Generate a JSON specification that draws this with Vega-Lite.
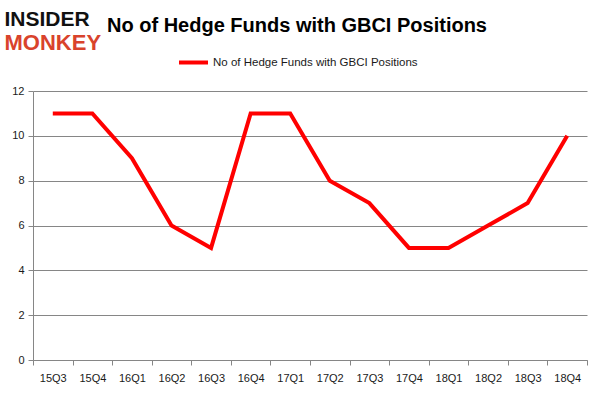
{
  "$schema": "https://vega.github.io/schema/vega-lite/v6.json",
  "width": 554,
  "height": 269,
  "autosize": {"type": "none"},
  "padding": {"left": 33, "top": 91, "right": 14, "bottom": 36},
  "background": "white",
  "title": {
    "text": "No of Hedge Funds with GBCI Positions",
    "font": "Liberation Sans",
    "fontSize": 20,
    "fontWeight": "bold",
    "color": "#000000",
    "anchor": "middle",
    "dx": -13,
    "dy": 28,
    "offset": 0
  },
  "data": {
    "values": [
      {"quarter": "15Q3", "funds": 11, "series": "No of Hedge Funds with GBCI Positions"},
      {"quarter": "15Q4", "funds": 11, "series": "No of Hedge Funds with GBCI Positions"},
      {"quarter": "16Q1", "funds": 9, "series": "No of Hedge Funds with GBCI Positions"},
      {"quarter": "16Q2", "funds": 6, "series": "No of Hedge Funds with GBCI Positions"},
      {"quarter": "16Q3", "funds": 5, "series": "No of Hedge Funds with GBCI Positions"},
      {"quarter": "16Q4", "funds": 11, "series": "No of Hedge Funds with GBCI Positions"},
      {"quarter": "17Q1", "funds": 11, "series": "No of Hedge Funds with GBCI Positions"},
      {"quarter": "17Q2", "funds": 8, "series": "No of Hedge Funds with GBCI Positions"},
      {"quarter": "17Q3", "funds": 7, "series": "No of Hedge Funds with GBCI Positions"},
      {"quarter": "17Q4", "funds": 5, "series": "No of Hedge Funds with GBCI Positions"},
      {"quarter": "18Q1", "funds": 5, "series": "No of Hedge Funds with GBCI Positions"},
      {"quarter": "18Q2", "funds": 6, "series": "No of Hedge Funds with GBCI Positions"},
      {"quarter": "18Q3", "funds": 7, "series": "No of Hedge Funds with GBCI Positions"},
      {"quarter": "18Q4", "funds": 10, "series": "No of Hedge Funds with GBCI Positions"}
    ]
  },
  "mark": {"type": "line", "strokeWidth": 4, "strokeJoin": "miter", "strokeCap": "butt"},
  "encoding": {
    "x": {
      "field": "quarter",
      "type": "ordinal",
      "sort": null,
      "scale": {"type": "band", "paddingInner": 0, "paddingOuter": 0},
      "axis": {
        "title": "MONKEY",
        "titleFont": "Liberation Sans",
        "titleFontSize": 22,
        "titleFontWeight": "bold",
        "titleColor": "#d9432c",
        "titleAngle": 0,
        "titleAlign": "left",
        "titleBaseline": "alphabetic",
        "titleX": -29,
        "titleY": -311,
        "labelAngle": 0,
        "labelFont": "Liberation Sans",
        "labelFontSize": 11,
        "labelColor": "#1a1a1a",
        "labelPadding": 7,
        "tickBand": "extent",
        "tickSize": 5,
        "tickColor": "#868686",
        "domainColor": "#868686",
        "grid": false
      }
    },
    "y": {
      "field": "funds",
      "type": "quantitative",
      "scale": {"domain": [0, 12]},
      "axis": {
        "title": "INSIDER",
        "titleFont": "Liberation Sans",
        "titleFontSize": 21,
        "titleFontWeight": "bold",
        "titleColor": "#111111",
        "titleAngle": 0,
        "titleAlign": "left",
        "titleBaseline": "alphabetic",
        "titleX": -29,
        "titleY": -66,
        "values": [0, 2, 4, 6, 8, 10, 12],
        "labelFont": "Liberation Sans",
        "labelFontSize": 11,
        "labelColor": "#1a1a1a",
        "labelPadding": 4,
        "tickSize": 5,
        "tickColor": "#868686",
        "domainColor": "#868686",
        "gridColor": "#868686",
        "gridWidth": 1
      }
    },
    "color": {
      "field": "series",
      "type": "nominal",
      "scale": {"range": ["#ff0000"]},
      "legend": {
        "title": null,
        "orient": "none",
        "legendX": 144,
        "legendY": -45,
        "symbolType": "stroke",
        "symbolSize": 841,
        "symbolStrokeWidth": 4,
        "labelFont": "Liberation Sans",
        "labelFontSize": 11.5,
        "labelLimit": 400,
        "labelColor": "#1a1a1a",
        "labelOffset": 3
      }
    }
  },
  "config": {
    "view": {"stroke": null}
  }
}
